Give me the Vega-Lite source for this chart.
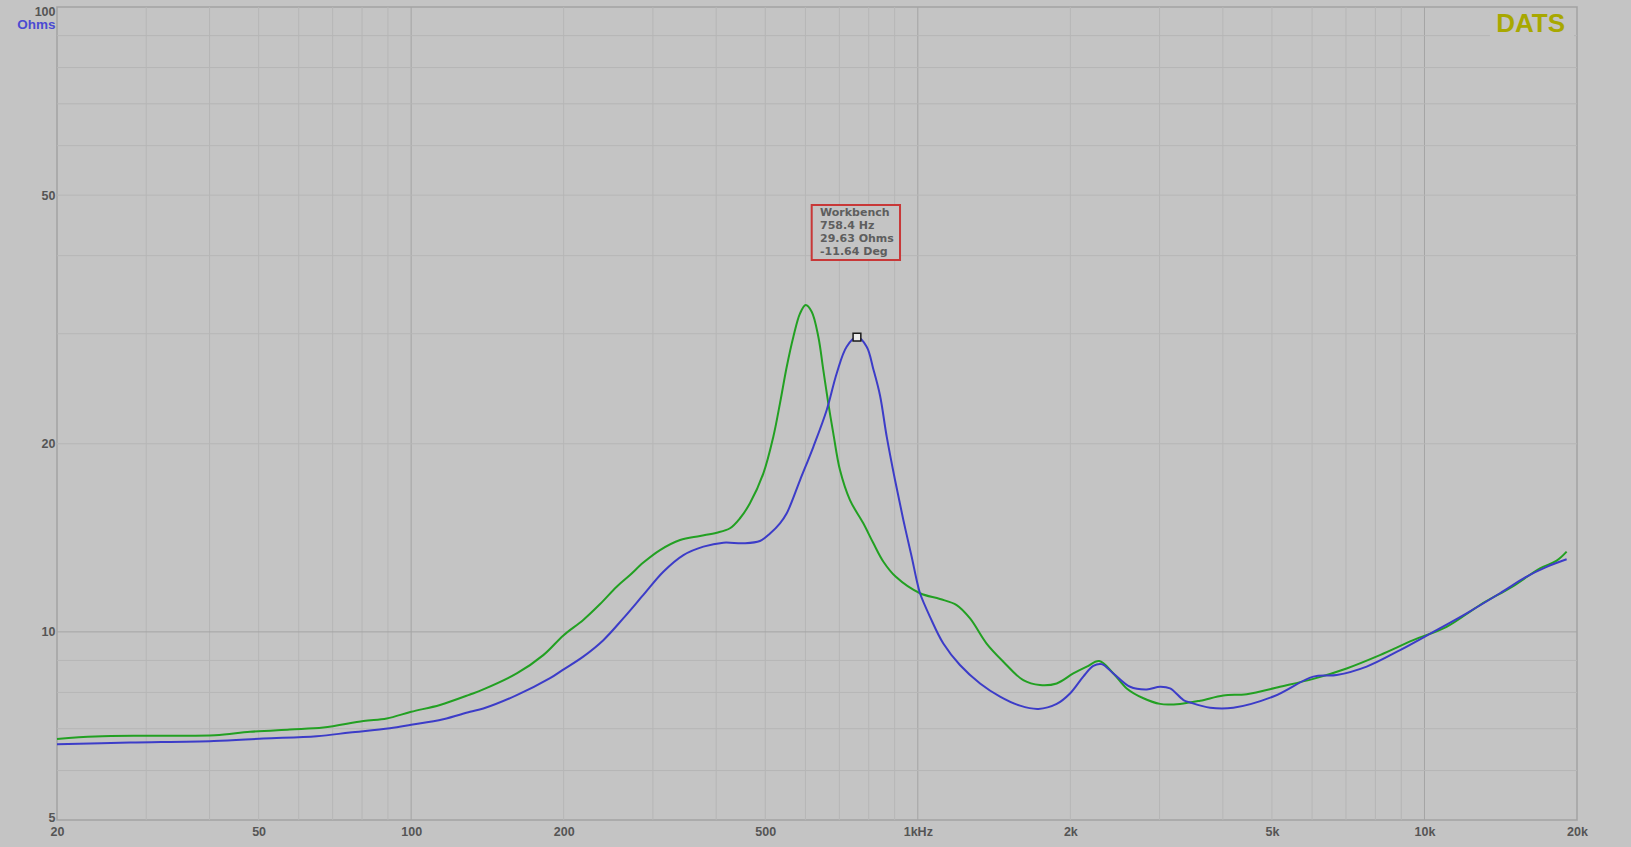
{
  "$schema": "https://vega.github.io/schema/vega-lite/v6.json",
  "width": 1520,
  "height": 813,
  "autosize": "none",
  "padding": {"left": 57, "top": 7, "right": 54, "bottom": 27},
  "background": "#c4c4c4",
  "config": {
    "view": {"stroke": "#a2a2a2", "strokeWidth": 1.5},
    "font": "Liberation Sans",
    "axis": {
      "grid": false, "ticks": false, "tickSize": 0, "domain": false,
      "labelFont": "Liberation Sans", "labelFontWeight": "bold", "labelFontSize": 12.5, "labelColor": "#555555",
      "labelFlush": false, "labelOverlap": false, "labelBound": false
    }
  },
  "datasets": {
    "xgrid": [
      {"f": 30, "kind": "minor"}, {"f": 40, "kind": "minor"}, {"f": 50, "kind": "minor"}, {"f": 60, "kind": "minor"},
      {"f": 70, "kind": "minor"}, {"f": 80, "kind": "minor"}, {"f": 90, "kind": "minor"}, {"f": 100, "kind": "major"},
      {"f": 200, "kind": "minor"}, {"f": 300, "kind": "minor"}, {"f": 400, "kind": "minor"}, {"f": 500, "kind": "minor"},
      {"f": 600, "kind": "minor"}, {"f": 700, "kind": "minor"}, {"f": 800, "kind": "minor"}, {"f": 900, "kind": "minor"},
      {"f": 1000, "kind": "major"}, {"f": 2000, "kind": "minor"}, {"f": 3000, "kind": "minor"}, {"f": 4000, "kind": "minor"},
      {"f": 5000, "kind": "minor"}, {"f": 6000, "kind": "minor"}, {"f": 7000, "kind": "minor"}, {"f": 8000, "kind": "minor"},
      {"f": 9000, "kind": "minor"}, {"f": 10000, "kind": "major"}
    ],
    "ygrid": [
      {"z": 6, "kind": "minor"}, {"z": 7, "kind": "minor"}, {"z": 8, "kind": "minor"}, {"z": 9, "kind": "minor"},
      {"z": 10, "kind": "major"}, {"z": 20, "kind": "minor"}, {"z": 30, "kind": "minor"}, {"z": 40, "kind": "minor"},
      {"z": 50, "kind": "minor"}, {"z": 60, "kind": "minor"}, {"z": 70, "kind": "minor"}, {"z": 80, "kind": "minor"},
      {"z": 90, "kind": "minor"}
    ],
    "curves": [
      {"series": "Trace 2", "f": 20, "z": 6.74},
      {"series": "Trace 2", "f": 23.8, "z": 6.8},
      {"series": "Trace 2", "f": 30.1, "z": 6.82},
      {"series": "Trace 2", "f": 41, "z": 6.83},
      {"series": "Trace 2", "f": 48.1, "z": 6.92},
      {"series": "Trace 2", "f": 57.6, "z": 6.98},
      {"series": "Trace 2", "f": 67.1, "z": 7.03},
      {"series": "Trace 2", "f": 80.5, "z": 7.2},
      {"series": "Trace 2", "f": 89.5, "z": 7.27},
      {"series": "Trace 2", "f": 100, "z": 7.45},
      {"series": "Trace 2", "f": 114, "z": 7.64},
      {"series": "Trace 2", "f": 130.7, "z": 7.94},
      {"series": "Trace 2", "f": 138.8, "z": 8.09},
      {"series": "Trace 2", "f": 161.6, "z": 8.58},
      {"series": "Trace 2", "f": 182.3, "z": 9.18},
      {"series": "Trace 2", "f": 200, "z": 9.88},
      {"series": "Trace 2", "f": 218.6, "z": 10.45},
      {"series": "Trace 2", "f": 236, "z": 11.08},
      {"series": "Trace 2", "f": 254.5, "z": 11.81},
      {"series": "Trace 2", "f": 270.4, "z": 12.33},
      {"series": "Trace 2", "f": 287.3, "z": 12.91},
      {"series": "Trace 2", "f": 309.9, "z": 13.52},
      {"series": "Trace 2", "f": 339.5, "z": 14.03},
      {"series": "Trace 2", "f": 371.7, "z": 14.24},
      {"series": "Trace 2", "f": 401, "z": 14.41},
      {"series": "Trace 2", "f": 425.9, "z": 14.65},
      {"series": "Trace 2", "f": 445.7, "z": 15.2},
      {"series": "Trace 2", "f": 466.3, "z": 16.06},
      {"series": "Trace 2", "f": 495.6, "z": 17.93},
      {"series": "Trace 2", "f": 518.6, "z": 20.53},
      {"series": "Trace 2", "f": 534.5, "z": 23.21},
      {"series": "Trace 2", "f": 551.2, "z": 26.56},
      {"series": "Trace 2", "f": 568.1, "z": 29.67},
      {"series": "Trace 2", "f": 585.6, "z": 32.34},
      {"series": "Trace 2", "f": 600.8, "z": 33.35},
      {"series": "Trace 2", "f": 617.4, "z": 32.54},
      {"series": "Trace 2", "f": 636.3, "z": 29.67},
      {"series": "Trace 2", "f": 650.9, "z": 26.24},
      {"series": "Trace 2", "f": 665.8, "z": 23.21},
      {"series": "Trace 2", "f": 681.1, "z": 20.78},
      {"series": "Trace 2", "f": 702.1, "z": 18.15},
      {"series": "Trace 2", "f": 734.7, "z": 16.25},
      {"series": "Trace 2", "f": 780.6, "z": 14.92},
      {"series": "Trace 2", "f": 817.3, "z": 13.86},
      {"series": "Trace 2", "f": 855.3, "z": 12.95},
      {"series": "Trace 2", "f": 905, "z": 12.25},
      {"series": "Trace 2", "f": 1010, "z": 11.53},
      {"series": "Trace 2", "f": 1106, "z": 11.29},
      {"series": "Trace 2", "f": 1193, "z": 11.04},
      {"series": "Trace 2", "f": 1268, "z": 10.51},
      {"series": "Trace 2", "f": 1367, "z": 9.58},
      {"series": "Trace 2", "f": 1475, "z": 8.96},
      {"series": "Trace 2", "f": 1615, "z": 8.37},
      {"series": "Trace 2", "f": 1742, "z": 8.22},
      {"series": "Trace 2", "f": 1880, "z": 8.27},
      {"series": "Trace 2", "f": 2027, "z": 8.58},
      {"series": "Trace 2", "f": 2155, "z": 8.8},
      {"series": "Trace 2", "f": 2281, "z": 8.98},
      {"series": "Trace 2", "f": 2432, "z": 8.58},
      {"series": "Trace 2", "f": 2584, "z": 8.12},
      {"series": "Trace 2", "f": 2788, "z": 7.83},
      {"series": "Trace 2", "f": 3007, "z": 7.67},
      {"series": "Trace 2", "f": 3293, "z": 7.67},
      {"series": "Trace 2", "f": 3608, "z": 7.76},
      {"series": "Trace 2", "f": 4009, "z": 7.91},
      {"series": "Trace 2", "f": 4458, "z": 7.95},
      {"series": "Trace 2", "f": 5186, "z": 8.17},
      {"series": "Trace 2", "f": 6033, "z": 8.41},
      {"series": "Trace 2", "f": 7020, "z": 8.74},
      {"series": "Trace 2", "f": 8166, "z": 9.18},
      {"series": "Trace 2", "f": 9502, "z": 9.7},
      {"series": "Trace 2", "f": 11057, "z": 10.19},
      {"series": "Trace 2", "f": 12867, "z": 11.04},
      {"series": "Trace 2", "f": 14969, "z": 11.84},
      {"series": "Trace 2", "f": 16905, "z": 12.64},
      {"series": "Trace 2", "f": 18236, "z": 13.0},
      {"series": "Trace 2", "f": 19080, "z": 13.44},
      {"series": "Workbench", "f": 20, "z": 6.61},
      {"series": "Workbench", "f": 27.9, "z": 6.65},
      {"series": "Workbench", "f": 40.8, "z": 6.69},
      {"series": "Workbench", "f": 51.1, "z": 6.75},
      {"series": "Workbench", "f": 65.1, "z": 6.81},
      {"series": "Workbench", "f": 75.7, "z": 6.9},
      {"series": "Workbench", "f": 90.8, "z": 7.01},
      {"series": "Workbench", "f": 100, "z": 7.1},
      {"series": "Workbench", "f": 115.7, "z": 7.25},
      {"series": "Workbench", "f": 130.7, "z": 7.45},
      {"series": "Workbench", "f": 138.8, "z": 7.54},
      {"series": "Workbench", "f": 161.6, "z": 7.92},
      {"series": "Workbench", "f": 188, "z": 8.43},
      {"series": "Workbench", "f": 200, "z": 8.71},
      {"series": "Workbench", "f": 218.6, "z": 9.13},
      {"series": "Workbench", "f": 239.5, "z": 9.7},
      {"series": "Workbench", "f": 262.2, "z": 10.51},
      {"series": "Workbench", "f": 287.3, "z": 11.46},
      {"series": "Workbench", "f": 314.6, "z": 12.48},
      {"series": "Workbench", "f": 344.7, "z": 13.27},
      {"series": "Workbench", "f": 377.4, "z": 13.69},
      {"series": "Workbench", "f": 413.3, "z": 13.89},
      {"series": "Workbench", "f": 452.5, "z": 13.86},
      {"series": "Workbench", "f": 488, "z": 13.98},
      {"series": "Workbench", "f": 510.9, "z": 14.37},
      {"series": "Workbench", "f": 534.5, "z": 14.92},
      {"series": "Workbench", "f": 551.2, "z": 15.48},
      {"series": "Workbench", "f": 585.6, "z": 17.5},
      {"series": "Workbench", "f": 622.1, "z": 19.78},
      {"series": "Workbench", "f": 661, "z": 22.65},
      {"series": "Workbench", "f": 691.6, "z": 25.91},
      {"series": "Workbench", "f": 723.7, "z": 28.6},
      {"series": "Workbench", "f": 758.4, "z": 29.63},
      {"series": "Workbench", "f": 792.6, "z": 28.6},
      {"series": "Workbench", "f": 817.3, "z": 26.3},
      {"series": "Workbench", "f": 842.2, "z": 23.9},
      {"series": "Workbench", "f": 868.2, "z": 20.53},
      {"series": "Workbench", "f": 901.6, "z": 17.5},
      {"series": "Workbench", "f": 936.4, "z": 15.1},
      {"series": "Workbench", "f": 972.5, "z": 13.19},
      {"series": "Workbench", "f": 994.9, "z": 12.1},
      {"series": "Workbench", "f": 1010, "z": 11.53},
      {"series": "Workbench", "f": 1057, "z": 10.57},
      {"series": "Workbench", "f": 1123, "z": 9.58},
      {"series": "Workbench", "f": 1211, "z": 8.85},
      {"series": "Workbench", "f": 1327, "z": 8.27},
      {"series": "Workbench", "f": 1453, "z": 7.88},
      {"series": "Workbench", "f": 1591, "z": 7.62},
      {"series": "Workbench", "f": 1730, "z": 7.53},
      {"series": "Workbench", "f": 1880, "z": 7.67},
      {"series": "Workbench", "f": 1997, "z": 7.97},
      {"series": "Workbench", "f": 2121, "z": 8.48},
      {"series": "Workbench", "f": 2220, "z": 8.82},
      {"series": "Workbench", "f": 2305, "z": 8.88},
      {"series": "Workbench", "f": 2432, "z": 8.58},
      {"series": "Workbench", "f": 2624, "z": 8.17},
      {"series": "Workbench", "f": 2830, "z": 8.09},
      {"series": "Workbench", "f": 3007, "z": 8.17},
      {"series": "Workbench", "f": 3147, "z": 8.12},
      {"series": "Workbench", "f": 3344, "z": 7.78},
      {"series": "Workbench", "f": 3446, "z": 7.71},
      {"series": "Workbench", "f": 3775, "z": 7.56},
      {"series": "Workbench", "f": 4194, "z": 7.56},
      {"series": "Workbench", "f": 5031, "z": 7.88},
      {"series": "Workbench", "f": 6033, "z": 8.48},
      {"series": "Workbench", "f": 6709, "z": 8.53},
      {"series": "Workbench", "f": 7690, "z": 8.8},
      {"series": "Workbench", "f": 8950, "z": 9.35},
      {"series": "Workbench", "f": 10411, "z": 10.0},
      {"series": "Workbench", "f": 12111, "z": 10.71},
      {"series": "Workbench", "f": 14093, "z": 11.53},
      {"series": "Workbench", "f": 15909, "z": 12.26},
      {"series": "Workbench", "f": 17422, "z": 12.71},
      {"series": "Workbench", "f": 19080, "z": 13.07}
    ],
    "box": [{"f": 617.4, "f2": 922.3, "z": 48.21, "z2": 39.35}],
    "dbox": [{"f": 13466, "f2": 19730, "z": 98.1, "z2": 89.45}],
    "notes": [
      {"f": 641.3, "z": 46.73, "label": "Workbench"},
      {"f": 641.3, "z": 44.59, "label": "758.4 Hz"},
      {"f": 641.3, "z": 42.47, "label": "29.63 Ohms"},
      {"f": 641.3, "z": 40.58, "label": "-11.64 Deg"}
    ],
    "marker": [{"f": 758.4, "z": 29.63}],
    "brand": [{"f": 18940, "z": 91.2, "label": "DATS"}]
  },
  "encoding": {
    "x": {
      "field": "f", "type": "quantitative",
      "scale": {"type": "log", "domain": [20, 20000], "nice": false},
      "axis": {
        "values": [20, 50, 100, 200, 500, 1000, 2000, 5000, 10000, 20000],
        "labelExpr": "datum.value == 1000 ? '1kHz' : (datum.value >= 2000 ? (datum.value / 1000) + 'k' : '' + datum.value)",
        "title": null, "labelPadding": 5
      }
    },
    "y": {
      "field": "z", "type": "quantitative",
      "scale": {"type": "log", "domain": [5, 100], "nice": false},
      "axis": {
        "values": [5, 10, 20, 50, 100],
        "labelExpr": "'' + datum.value",
        "labelPadding": 2, "labelBaseline": "middle",
        "labelOffset": {"condition": [{"test": "datum.value == 5", "value": -3}, {"test": "datum.value == 100", "value": 4}], "value": 0},
        "title": "Ohms", "titleAngle": 0, "titleAlign": "right", "titleBaseline": "middle",
        "titleX": -2, "titleY": 17.5, "titleColor": "#4b4bd2",
        "titleFont": "Liberation Sans", "titleFontSize": 13.5, "titleFontWeight": "bold"
      }
    }
  },
  "layer": [
    {
      "data": {"name": "xgrid"},
      "mark": {"type": "rule", "strokeWidth": 1},
      "encoding": {
        "y": {"value": 0},
        "y2": {"value": 813},
        "stroke": {"condition": {"test": "datum.kind == 'major'", "value": "#a4a4a4"}, "value": "#b6b6b6"}
      }
    },
    {
      "data": {"name": "ygrid"},
      "mark": {"type": "rule", "strokeWidth": 1},
      "encoding": {
        "x": {"value": 0},
        "x2": {"value": 1520},
        "stroke": {"condition": {"test": "datum.kind == 'major'", "value": "#a4a4a4"}, "value": "#b6b6b6"}
      }
    },
    {
      "data": {"name": "dbox"},
      "mark": {"type": "rect", "fill": "#c4c4c4"},
      "encoding": {"x2": {"field": "f2"}, "y2": {"field": "z2"}}
    },
    {
      "data": {"name": "box"},
      "mark": {"type": "rect", "fill": "#c4c4c4", "stroke": "#c83838", "strokeWidth": 2},
      "encoding": {"x2": {"field": "f2"}, "y2": {"field": "z2"}}
    },
    {
      "data": {"name": "curves"},
      "mark": {"type": "line", "strokeWidth": 2, "interpolate": "catmull-rom"},
      "encoding": {
        "color": {"field": "series", "type": "nominal", "scale": {"domain": ["Trace 2", "Workbench"], "range": ["#22a022", "#3c3cc8"]}, "legend": null}
      }
    },
    {
      "data": {"name": "marker"},
      "mark": {"type": "point", "shape": "square", "size": 60, "filled": false, "fill": "#ececec", "stroke": "#1a1a1a", "strokeWidth": 1.5, "opacity": 1}
    },
    {
      "data": {"name": "notes"},
      "mark": {"type": "text", "align": "left", "baseline": "middle", "font": "DejaVu Sans", "fontWeight": "bold", "fontSize": 11, "color": "#5e5e5e"},
      "encoding": {"text": {"field": "label"}}
    },
    {
      "data": {"name": "brand"},
      "mark": {"type": "text", "align": "right", "baseline": "alphabetic", "font": "Liberation Sans", "fontWeight": "bold", "fontSize": 26, "color": "#a8a800"},
      "encoding": {"text": {"field": "label"}}
    }
  ]
}
